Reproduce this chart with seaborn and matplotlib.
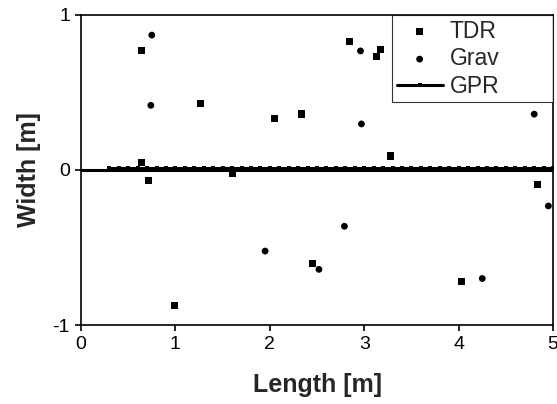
import matplotlib
matplotlib.use("Agg")
import matplotlib.pyplot as plt
import seaborn as sns

# ---- DATA ----
tdr_x = [0.645, 1.27, 2.05, 0.645, 0.716, 1.60, 2.84, 3.17, 3.13, 2.34, 3.28, 4.83, 0.99, 2.45, 4.03]
tdr_y = [0.768, 0.428, 0.33, 0.05, -0.07, -0.02, 0.83, 0.78, 0.73, 0.361, 0.09, -0.092, -0.873, -0.602, -0.72]

grav_x = [0.75, 0.74, 2.96, 2.97, 4.80, 1.95, 2.79, 2.52, 4.25, 4.95]
grav_y = [0.87, 0.417, 0.768, 0.297, 0.36, -0.523, -0.363, -0.641, -0.70, -0.232]

gpr_x = [0.3, 0.4, 0.5, 0.6, 0.7, 0.8, 0.9, 1.0, 1.1, 1.2, 1.3, 1.4, 1.5, 1.6,
         1.7, 1.8, 1.9, 2.0, 2.1, 2.2, 2.3, 2.4, 2.5, 2.6, 2.7, 2.8, 2.9, 3.0,
         3.1, 3.2, 3.3, 3.4, 3.5, 3.6, 3.7, 3.8, 3.9, 4.0, 4.1, 4.2, 4.3, 4.4,
         4.5, 4.6, 4.7, 4.8, 4.9, 5.0]
gpr_y = [0.015] * len(gpr_x)

x_ticks = [0, 1, 2, 3, 4, 5]
y_ticks = [-1, 0, 1]

sns.set_style("ticks")
plt.rcParams["font.family"] = ["Liberation Sans", "DejaVu Sans"]
plt.rcParams["axes.unicode_minus"] = False

fig = plt.figure(figsize=(5.57, 4.04), dpi=100)
ax = fig.add_axes([0.1454, 0.1955, 0.8476, 0.7675])

ax.axhline(0, color="black", lw=2.2, zorder=1)
sns.lineplot(x=gpr_x, y=gpr_y, ax=ax, color="black", lw=2.2, marker="s",
             markersize=3.2, markeredgewidth=0, label="GPR", zorder=2)
sns.scatterplot(x=tdr_x, y=tdr_y, ax=ax, marker="s", s=26, color="black",
                edgecolor="none", label="TDR", zorder=3)
sns.scatterplot(x=grav_x, y=grav_y, ax=ax, marker="o", s=24, color="black",
                edgecolor="none", label="Grav", zorder=3)

ax.set_xlim(0, 5)
ax.set_ylim(-1, 1)
ax.set_xticks(x_ticks)
ax.set_yticks(y_ticks)
ax.tick_params(direction="out", length=4.5, width=1.2, labelsize=14, colors="black")

for side in ["left", "right", "top", "bottom"]:
    ax.spines[side].set_visible(True)
    ax.spines[side].set_color("black")
    ax.spines[side].set_linewidth(1.2)

ax.set_xlabel("Length [m]", fontsize=18, fontweight="bold", labelpad=14)
ax.set_ylabel("Width [m]", fontsize=18, fontweight="bold", labelpad=8)

handles, labels = ax.get_legend_handles_labels()
order = [labels.index(n) for n in ["TDR", "Grav", "GPR"]]
leg = ax.legend([handles[i] for i in order], [labels[i] for i in order],
                loc="upper left", bbox_to_anchor=(0.659, 0, 0.341, 1),
                mode="expand", fontsize=16.5, frameon=True, fancybox=False,
                borderaxespad=0, handlelength=2.0, handletextpad=0.3,
                labelspacing=0.2, borderpad=0.2)
leg.get_frame().set_edgecolor("black")
leg.get_frame().set_linewidth(0.8)

plt.savefig("out.png", dpi=100)
plt.close()
